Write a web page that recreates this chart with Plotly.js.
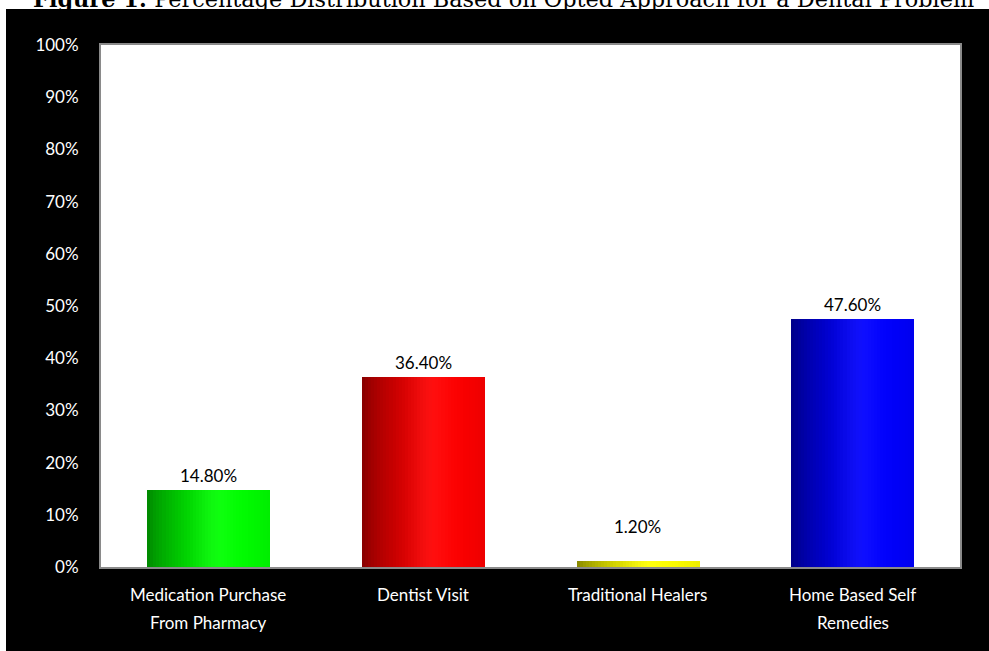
<!DOCTYPE html>
<html>
<head>
<meta charset="utf-8">
<script src="https://cdn.plot.ly/plotly-3.0.1.min.js"></script>
<style>html,body{margin:0;padding:0;background:#fff;}#chart{width:989px;height:651px;}</style>
</head>
<body>
<div id="chart"></div>
<script>
const categories = ["Medication Purchase From Pharmacy", "Dentist Visit", "Traditional Healers", "Home Based Self Remedies"];
const tickLines = [["Medication Purchase", "From Pharmacy"], ["Dentist Visit"], ["Traditional Healers"], ["Home Based Self", "Remedies"]];
const values = [14.8, 36.4, 1.2, 47.6];
const valueLabels = ["14.80%", "36.40%", "1.20%", "47.60%"];
const baseColors = [[0, 255, 0], [255, 0, 0], [255, 255, 0], [0, 0, 255]];
const titleText = "<b>Figure 1:</b> Percentage Distribution Based on Opted Approach for a Dental Problem";

// geometry (pixels) of the reference frame
const W = 989, H = 651;
const mL = 101, mR = 29, mT = 45, mB = 84;
const pw = W - mL - mR, ph = H - mT - mB;
const px2x = p => (p - mL) / pw;
const py2y = p => (H - mB - p) / ph;

function shade(t) {
  let f;
  if (t < 0.58) f = 0.52 + 0.48 * Math.pow(t / 0.58, 0.75);
  else f = 1 - 0.07 * Math.pow((t - 0.58) / 0.42, 2);
  const h = 0.06 * Math.exp(-Math.pow((t - 0.55) / 0.15, 2));
  return baseColors.map(c => {
    const ch = c.map(v => Math.round(v * f * (1 - h) + 255 * h));
    return `rgb(${ch[0]},${ch[1]},${ch[2]})`;
  });
}

const BW = 0.57, N = 40;
const traces = [];
for (let i = 0; i < N; i++) {
  const t = (i + 0.5) / N;
  traces.push({
    type: 'bar',
    x: categories,
    y: values,
    width: BW / N + 0.002,
    offset: -BW / 2 + i * BW / N,
    marker: { color: shade(t), line: { width: 0 } },
    hoverinfo: 'skip',
    showlegend: false
  });
}

const annotations = [];
// title
annotations.push({
  xref: 'paper', yref: 'paper', x: px2x(503), y: py2y(14), xanchor: 'center', yanchor: 'bottom',
  text: titleText, showarrow: false,
  font: { family: 'DejaVu Serif', size: 22.4, color: '#000' }
});
// value labels
values.forEach((v, i) => {
  annotations.push({
    xref: 'x', yref: 'y', x: categories[i], y: Math.max(v, 5), xanchor: 'center', yanchor: 'bottom',
    yshift: 0, text: valueLabels[i], showarrow: false, bgcolor: '#ffffff', borderpad: 3,
    font: { family: 'Lato', size: 17, color: '#000' }
  });
});
// category labels (two lines, wider spacing)
tickLines.forEach((lines, i) => {
  lines.forEach((ln, j) => {
    annotations.push({
      xref: 'x', yref: 'paper', x: categories[i], y: py2y(594 + 28 * j), xanchor: 'center', yanchor: 'middle',
      text: ln, showarrow: false, font: { family: 'Lato', size: 17, color: '#fff' }
    });
  });
});

const layout = {
  width: W, height: H,
  margin: { l: mL, r: mR, t: mT, b: mB, pad: 0 },
  paper_bgcolor: '#ffffff',
  plot_bgcolor: '#ffffff',
  barmode: 'overlay',
  bargap: 0,
  showlegend: false,
  hovermode: false,
  xaxis: {
    type: 'category', categoryorder: 'array', categoryarray: categories,
    showticklabels: false, ticks: '', showgrid: false, zeroline: false,
    showline: true, linecolor: '#8a8a8a', linewidth: 2, mirror: true
  },
  yaxis: {
    range: [0, 100], dtick: 10, ticksuffix: '%', ticks: '', ticklabelstandoff: 17,
    showgrid: false, zeroline: false, showline: true, linecolor: '#8a8a8a', linewidth: 2, mirror: true,
    tickfont: { family: 'Lato', size: 17, color: '#fff' }
  },
  shapes: [
    { type: 'rect', xref: 'paper', yref: 'paper', x0: px2x(6), x1: px2x(995), y0: py2y(H + 5), y1: py2y(9),
      fillcolor: '#000', line: { width: 0 }, layer: 'below' },
    { type: 'rect', xref: 'paper', yref: 'paper', x0: 0, x1: 1, y0: 0, y1: 1,
      fillcolor: '#fff', line: { width: 0 }, layer: 'below' }
  ],
  annotations: annotations
};

Plotly.newPlot('chart', traces, layout, { staticPlot: true, displayModeBar: false });
</script>
</body>
</html>
